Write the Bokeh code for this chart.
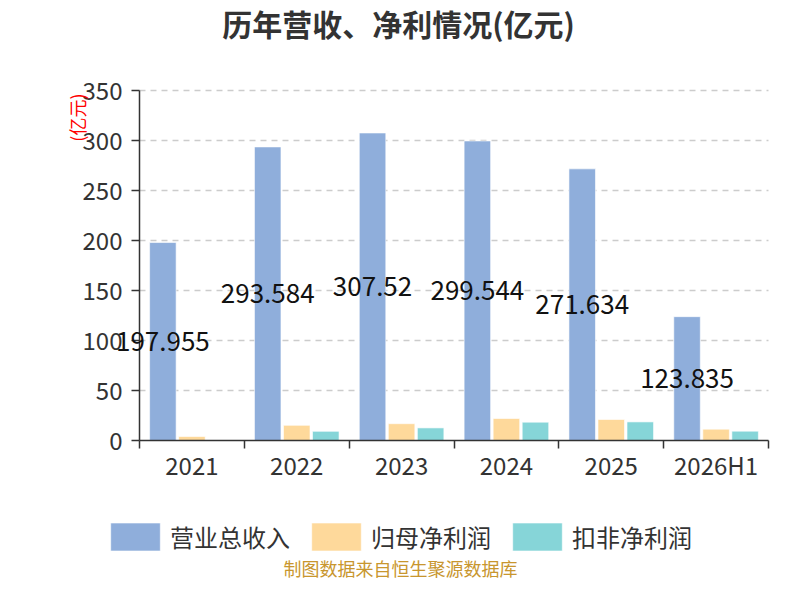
import numpy as np
from bokeh.plotting import figure
from bokeh.models import (ColumnDataSource, Range1d, FixedTicker, Label,
                          LabelSet, Legend, LegendItem)
from bokeh.core.properties import value
from bokeh.transform import dodge
from bokeh.embed import file_html
from bokeh.resources import INLINE

# data (亿元)
categories = ["2021", "2022", "2023", "2024", "2025", "2026H1"]
revenue = [197.955, 293.584, 307.52, 299.544, 271.634, 123.835]
net_profit = [4.0, 15.2, 16.8, 22.0, 21.0, 11.3]
deducted_profit = [float("nan"), 9.2, 12.6, 18.3, 18.6, 9.3]
y_ticks = [0, 50, 100, 150, 200, 250, 300, 350]
series_names = ["营业总收入", "归母净利润", "扣非净利润"]

FONT = "Noto Sans CJK SC"
C_REV = "#8FAEDB"
C_NET = "#FED99B"
C_DED = "#86D5D8"

# canvas layout (px): the frame covers the whole canvas and the axes are
# pinned at x=0 / y=0, so titles, legend and notes can live anywhere
W, H = 784, 584
PLOT_L, PLOT_R, PLOT_T, PLOT_B = 139, 768, 90, 440
Y_MAX = 350
n = len(categories)
px_x = (PLOT_R - PLOT_L) / n              # px per category
px_y = (PLOT_B - PLOT_T) / Y_MAX          # px per 亿元
x_range = Range1d(-PLOT_L / px_x, n + (W - PLOT_R) / px_x)
y_range = Range1d(-(H - PLOT_B) / px_y, Y_MAX + PLOT_T / px_y)


def cx(px):
    return (px - PLOT_L) / px_x


def cy(py):
    return (PLOT_B - py) / px_y


centers = np.arange(n) + 0.5
source = ColumnDataSource(dict(
    center=centers,
    rev=revenue,
    net=net_profit,
    ded=deducted_profit,
    rev_label=[str(v) for v in revenue],
    rev_mid=[v / 2 for v in revenue],
))

p = figure(width=W, height=H, x_range=x_range, y_range=y_range,
           output_backend="svg", toolbar_location=None, min_border=0)
p.outline_line_color = None
p.grid.visible = False

# dashed value grid, limited to the plotting area
p.segment(x0=0, x1=n, y0=y_ticks[1:], y1=y_ticks[1:], line_color="#cccccc",
          line_width=1.5, line_dash="6 5")

off, bw = 0.277, 0.253
r_rev = p.vbar(x=dodge("center", -off), top="rev", width=bw, source=source,
               fill_color=C_REV, line_color="white", line_alpha=0.6)
r_net = p.vbar(x="center", top="net", width=bw, source=source,
               fill_color=C_NET, line_color="white", line_alpha=0.6)
r_ded = p.vbar(x=dodge("center", off), top="ded", width=bw, source=source,
               fill_color=C_DED, line_color="white", line_alpha=0.6)

p.add_layout(LabelSet(x=dodge("center", -off), y="rev_mid", text="rev_label",
                      source=source, text_align="center", text_baseline="middle",
                      text_font=value(FONT), text_font_size=value("26px"),
                      text_color="#111111"))

# x axis: ticks at category boundaries, labels at centres
xa = p.xaxis[0]
xa.fixed_location = 0
xa.bounds = (0, n)
xa.ticker = FixedTicker(ticks=list(centers), minor_ticks=list(range(n + 1)))
xa.major_label_overrides = {float(c): cat for c, cat in zip(centers, categories)}
xa.major_tick_line_color = None
xa.major_tick_out = 0
xa.minor_tick_out = 8
xa.minor_tick_in = 0
xa.minor_tick_line_color = "#333333"
xa.minor_tick_line_width = 1.5
xa.axis_line_color = "#333333"
xa.axis_line_width = 1.5
xa.major_label_standoff = -2
xa.major_label_text_font = FONT
xa.major_label_text_font_size = "24px"
xa.major_label_text_color = "#333333"

ya = p.yaxis[0]
ya.fixed_location = 0
ya.bounds = (0, Y_MAX)
ya.ticker = FixedTicker(ticks=y_ticks)
ya.minor_tick_line_color = None
ya.major_tick_out = 8
ya.major_tick_in = 0
ya.major_tick_line_color = "#333333"
ya.major_tick_line_width = 1.5
ya.axis_line_color = "#333333"
ya.axis_line_width = 1.5
ya.major_label_standoff = 9
ya.major_label_text_font = FONT
ya.major_label_text_font_size = "24px"
ya.major_label_text_color = "#333333"

# y axis name, title, source note
p.add_layout(Label(x=cx(76.5), y=cy(93), text="(亿元)", angle=np.pi / 2,
                   text_align="right", text_baseline="middle",
                   text_font=FONT, text_font_size="18px", text_color="red"))
p.add_layout(Label(x=cx(398), y=cy(22), text="历年营收、净利情况(亿元)",
                   text_align="center", text_baseline="middle",
                   text_font=FONT, text_font_size="30px", text_font_style="bold",
                   text_color="#333333"))
p.add_layout(Label(x=cx(400), y=cy(567), text="制图数据来自恒生聚源数据库",
                   text_align="center", text_baseline="middle",
                   text_font=FONT, text_font_size="18px", text_color="#C8962E"))

legend = Legend(items=[LegendItem(label=s, renderers=[r])
                       for s, r in zip(series_names, [r_rev, r_net, r_ded])],
                orientation="horizontal", location=(104, H - 553.5))
legend.glyph_width = 62
legend.glyph_height = 35
legend.label_standoff = 4
legend.spacing = 15
legend.padding = 0
legend.margin = 0
legend.border_line_color = None
legend.background_fill_alpha = 0
legend.label_text_font = FONT
legend.label_text_font_size = "24px"
legend.label_text_color = "#333333"
legend.label_text_baseline = "middle"
p.add_layout(legend)

open("out.html", "w").write(file_html(p, INLINE))
